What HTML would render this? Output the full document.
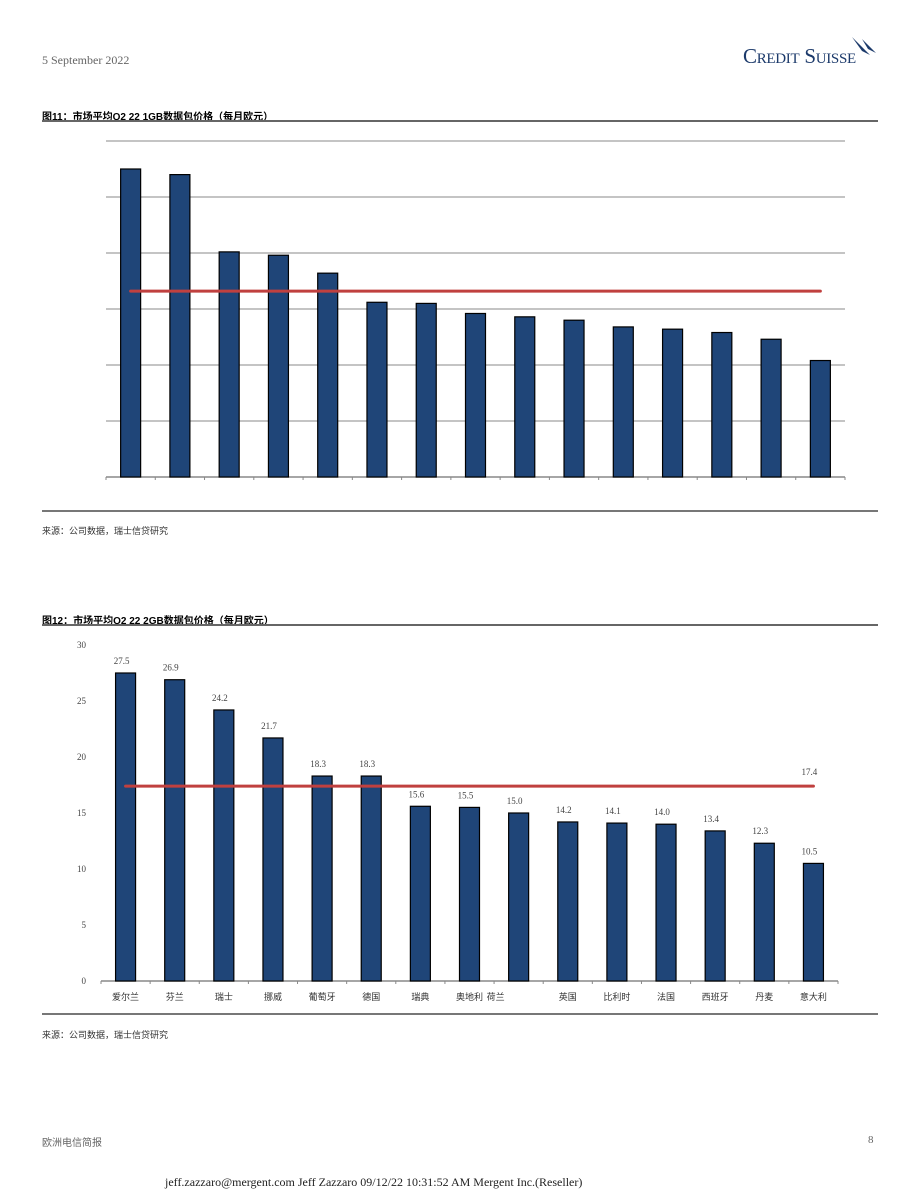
<!DOCTYPE html>
<html><head><meta charset="utf-8">
<style>
body{margin:0;background:#fff;width:920px;height:1191px;position:relative;overflow:hidden;font-family:"Liberation Serif","Noto Serif CJK SC",serif;}
.abs{position:absolute;}
.cn{font-family:"Liberation Sans","Noto Sans CJK SC",sans-serif;}
</style></head><body>
<div class="abs" style="left:42px;top:53px;font-size:12px;color:#666;">5 September 2022</div>
<div class="abs" style="left:743px;top:44px;color:#1c3a6b;font-size:21px;letter-spacing:-0.3px;font-variant:small-caps;">Credit Suisse</div>
<svg class="abs" style="left:848px;top:35px" width="30" height="22"><path d="M4 2 L22 20 L14 16 Z" fill="#1c3a6b"/><path d="M14 4 L28 18 L20 14 Z" fill="#1c3a6b"/></svg>

<div class="abs cn" style="left:42px;top:108px;font-size:10px;font-weight:bold;color:#000;">图11：市场平均Q2 22 1GB数据包价格（每月欧元）</div>
<div class="abs" style="left:42px;top:120px;width:836px;height:2px;background:#666;"></div>
<svg class="abs" id="c1" style="left:0;top:0" width="920" height="500"></svg>
<div class="abs" style="left:42px;top:510px;width:836px;height:2px;background:#777;"></div>
<div class="abs cn" style="left:42px;top:524px;font-size:9px;color:#333;">来源：公司数据，瑞士信贷研究</div>

<div class="abs cn" style="left:42px;top:612px;font-size:10px;font-weight:bold;color:#000;">图12：市场平均Q2 22 2GB数据包价格（每月欧元）</div>
<div class="abs" style="left:42px;top:624px;width:836px;height:2px;background:#666;"></div>
<svg class="abs" id="c2" style="left:0;top:0" width="920" height="1010"></svg>
<div class="abs" style="left:42px;top:1013px;width:836px;height:2px;background:#777;"></div>
<div class="abs cn" style="left:42px;top:1028px;font-size:9px;color:#333;">来源：公司数据，瑞士信贷研究</div>

<div class="abs cn" style="left:42px;top:1134px;font-size:10px;color:#666;">欧洲电信简报</div>
<div class="abs" style="left:868px;top:1134px;font-size:11px;color:#666;">8</div>
<div class="abs" style="left:165px;top:1175px;font-size:12px;color:#222;">jeff.zazzaro@mergent.com Jeff Zazzaro 09/12/22 10:31:52 AM Mergent Inc.(Reseller)</div>

<script>
const c1Values=[27.5,27.0,20.1,19.8,18.2,15.6,15.5,14.6,14.3,14.0,13.4,13.2,12.9,12.3,10.4];
const c1Average=[16.6];
const c2Categories=["爱尔兰","芬兰","瑞士","挪威","葡萄牙","德国","瑞典","奥地利","荷兰","英国","比利时","法国","西班牙","丹麦","意大利"];
const c2Values=[27.5,26.9,24.2,21.7,18.3,18.3,15.6,15.5,15.0,14.2,14.1,14.0,13.4,12.3,10.5];
const c2Average=[17.4];
const c2Ticks=[0,5,10,15,20,25,30];
const c2LabelShift=[0,0,0,0,0,0,0,0,-23,0,0,0,0,0,0];
const NS="http://www.w3.org/2000/svg";
function mk(svg,tag,attrs){const e=document.createElementNS(NS,tag);for(const k in attrs)e.setAttribute(k,attrs[k]);svg.appendChild(e);return e;}

(function(){
const svg=document.getElementById('c1');
const x0=106,x1=845,y0=477,pxPerUnit=56/5;
const band=(x1-x0)/c1Values.length;
const y=v=>y0-v*pxPerUnit;
for(let i=1;i<=6;i++){const g=mk(svg,'line',{x1:x0,x2:x1,y1:y(i*5),y2:y(i*5),stroke:'#888','stroke-width':1});
}
const ax=mk(svg,'line',{x1:x0,x2:x1,y1:y0,y2:y0,stroke:'#888','stroke-width':1.5});

for(let i=0;i<=c1Values.length;i++){mk(svg,'line',{x1:x0+i*band,x2:x0+i*band,y1:y0,y2:y0+3,stroke:'#888'});}
c1Values.forEach((v,i)=>{const cx=x0+band*(i+0.5);
const r=mk(svg,'rect',{x:cx-10,y:y(v),width:20,height:y0-y(v),fill:'#1f4578',stroke:'#000','stroke-width':1.2});
});
const l=mk(svg,'line',{x1:x0+band*0.5,x2:x1-band*0.5,y1:y(c1Average[0]),y2:y(c1Average[0]),stroke:'#c0403f','stroke-width':3,'stroke-linecap':'round'});

})();

(function(){
const svg=document.getElementById('c2');
const x0=101,x1=838,y0=981,pxPerUnit=56/5;
const band=(x1-x0)/c2Values.length;
const y=v=>y0-v*pxPerUnit;
c2Ticks.forEach(t=>{const tx=mk(svg,'text',{x:86,y:y(t)+3,'text-anchor':'end','font-size':9,fill:'#444','font-family':'Liberation Serif'});tx.textContent=t;
});
const ax=mk(svg,'line',{x1:x0,x2:x1,y1:y0,y2:y0,stroke:'#888','stroke-width':1.5});

for(let i=0;i<=c2Values.length;i++){mk(svg,'line',{x1:x0+i*band,x2:x0+i*band,y1:y0,y2:y0+3,stroke:'#888'});}
c2Values.forEach((v,i)=>{const cx=x0+band*(i+0.5);
const r=mk(svg,'rect',{x:cx-10,y:y(v),width:20,height:y0-y(v),fill:'#1f4578',stroke:'#000','stroke-width':1.2});

const t=mk(svg,'text',{x:cx-4,y:y(v)-9,'text-anchor':'middle','font-size':9,fill:'#444','font-family':'Liberation Serif'});t.textContent=v.toFixed(1);

const c=mk(svg,'text',{x:cx+c2LabelShift[i],y:y0+19,'text-anchor':'middle','font-size':9,fill:'#333','font-family':'Liberation Sans, Noto Sans CJK SC, sans-serif'});c.textContent=c2Categories[i];
});
const l=mk(svg,'line',{x1:x0+band*0.5,x2:x1-band*0.5,y1:y(c2Average[0]),y2:y(c2Average[0]),stroke:'#c0403f','stroke-width':3,'stroke-linecap':'round'});

const at=mk(svg,'text',{x:x1-band*0.5-4,y:y(c2Average[0])-11,'text-anchor':'middle','font-size':9,fill:'#444','font-family':'Liberation Serif'});at.textContent=c2Average[0].toFixed(1);

})();
</script>
</body></html>
